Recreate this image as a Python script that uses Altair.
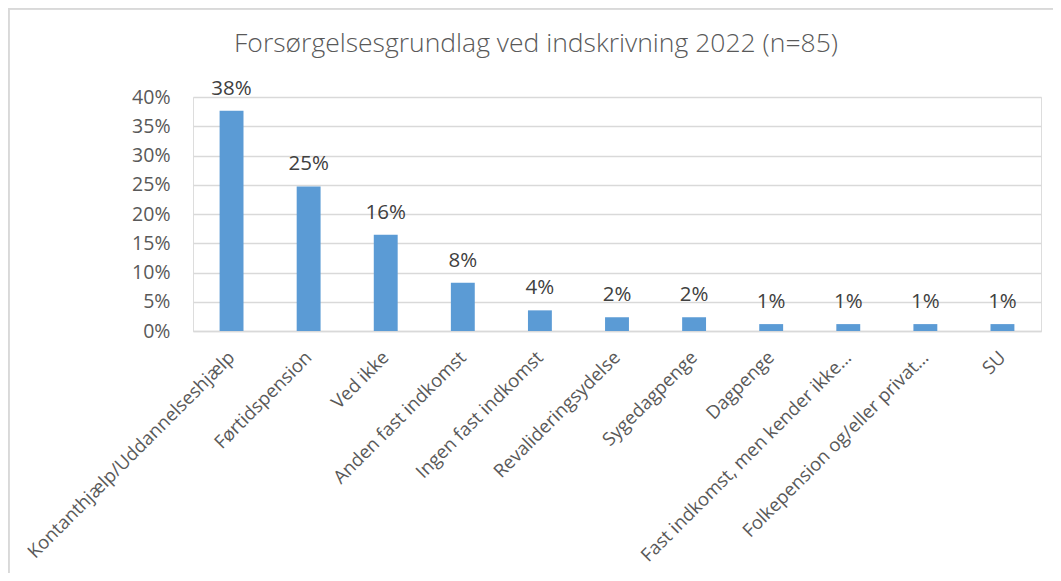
import altair as alt
import pandas as pd

categories = [
    "Kontanthjælp/Uddannelseshjælp",
    "Førtidspension",
    "Ved ikke",
    "Anden fast indkomst",
    "Ingen fast indkomst",
    "Revalideringsydelse",
    "Sygedagpenge",
    "Dagpenge",
    "Fast indkomst, men kender ikke…",
    "Folkepension og/eller privat…",
    "SU",
]
shares = [0.3765, 0.2471, 0.1647, 0.0824, 0.0353, 0.0235, 0.0235, 0.0118, 0.0118, 0.0118, 0.0118]
y_ticks = [0, 0.05, 0.1, 0.15, 0.2, 0.25, 0.3, 0.35, 0.4]

df = pd.DataFrame({"cat": categories, "share": shares})

W, H = 848, 234
LEFT, TOP = 185, 89
FONT = "Open Sans"
GREY = "#595959"

x_enc = alt.X(
    "cat:N",
    sort=categories,
    scale=alt.Scale(paddingInner=0.69, paddingOuter=0.345),
    axis=alt.Axis(
        title=None,
        labelAngle=-45,
        labelAlign="right",
        labelBaseline="middle",
        labelPadding=23,
        labelFont=FONT,
        labelFontSize=18.5,
        labelColor=GREY,
        labelLimit=400,
        labelOverlap=False,
        ticks=False,
        domainColor="#d9d9d9",
        domainWidth=1.3,
    ),
)
y_enc = alt.Y(
    "share:Q",
    scale=alt.Scale(domain=[0, 0.4], nice=False),
    axis=alt.Axis(
        title=None,
        values=y_ticks,
        format=".0%",
        labelFont=FONT,
        labelFontSize=19.5,
        labelColor=GREY,
        labelPadding=23,
        labelOverlap=False,
        labelFlush=False,
        ticks=False,
        domain=False,
        gridColor="#d9d9d9",
        gridWidth=1.3,
    ),
)

base = alt.Chart(df).encode(x=x_enc, y=y_enc)
bars = base.mark_bar(color="#5B9BD5")
labels = base.mark_text(
    dy=-16, baseline="alphabetic", font=FONT, fontSize=20.5, color="#404040"
).encode(text=alt.Text("share:Q", format=".0%"))

frame = alt.Chart(df).mark_rect(fill=None, stroke="#d9d9d9", strokeWidth=1.5).encode(
    x=alt.value(-LEFT + 0.5), x2=alt.value(W + 300), y=alt.value(-TOP + 0.5), y2=alt.value(H + 400)
)

chart = alt.layer(frame, bars, labels).properties(
    width=W,
    height=H,
    title=alt.TitleParams(
        "Forsørgelsesgrundlag ved indskrivning 2022 (n=85)",
        font="Open Sans",
        fontWeight=300,
        fontSize=26.5,
        color=GREY,
        anchor="middle",
        frame="group",
        dx=-81,
        baseline="alphabetic",
        offset=-71,
    ),
    autosize=alt.AutoSizeParams(type="none"),
    padding={"left": LEFT, "top": TOP, "right": 1045 - LEFT - W, "bottom": 565 - TOP - H},
).configure_view(stroke=None).configure(background="white")

chart.save("out.html", embed_options={"renderer": "svg", "actions": False})
